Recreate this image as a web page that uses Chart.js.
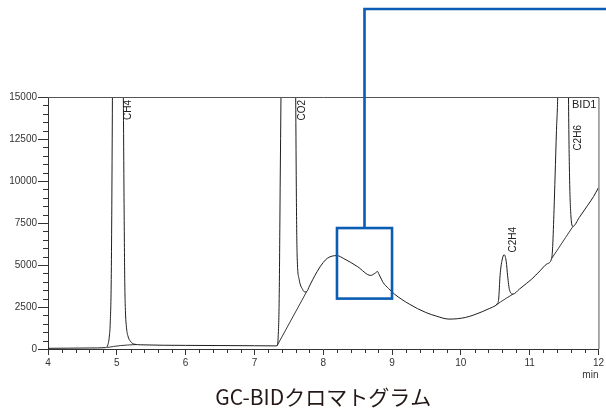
<!DOCTYPE html>
<html>
<head>
<meta charset="utf-8">
<script src="https://cdn.jsdelivr.net/npm/chart.js@4"></script>
<style>
  html, body { margin: 0; padding: 0; background: #fff; }
  canvas { display: block; }
</style>
</head>
<body>
<canvas id="chrom" width="606" height="408"></canvas>
<script>
// retention time (min) and detector response for the BID1 trace
const sigTime = [4.00, 4.30, 4.60, 4.84, 4.87, 4.89, 4.905, 4.92, 4.935, 4.95, 5.00, 5.06, 5.095, 5.105, 5.115, 5.125, 5.14, 5.16, 5.20, 5.25, 5.35, 6.00, 7.00, 7.30,
  7.33, 7.345, 7.36, 7.375, 7.386, 7.42, 7.50, 7.58, 7.60, 7.61, 7.62, 7.65, 7.70, 7.73, 7.76, 7.80, 7.85, 7.91, 8.00, 8.06, 8.13, 8.20, 8.30, 8.50,
  8.69, 8.75, 8.79, 8.81, 8.85, 8.87, 8.95, 9.035, 9.25, 9.49, 9.65, 9.83, 10.07, 10.31, 10.42, 10.50, 10.53,
  10.55, 10.57, 10.60, 10.63, 10.66, 10.68, 10.71, 10.76, 10.85, 10.95, 11.03, 11.15, 11.25, 11.32,
  11.335, 11.355, 11.37, 11.39, 11.41, 11.45, 11.50, 11.545, 11.565, 11.58, 11.60, 11.63, 11.72, 11.845, 11.93, 12.00];
const sigValue = [40, 50, 60, 80, 250, 700, 1600, 4500, 14000, 28000, 40000, 30000, 15000, 9000, 4200, 2300, 1300, 800, 450, 290, 250, 215, 195, 185,
  200, 700, 3000, 10000, 15000, 30000, 40000, 26000, 15000, 9000, 5700, 4150, 3550, 3400, 3420, 3750, 4150, 4600, 5150, 5400, 5530, 5560, 5380, 4900,
  4380, 4500, 4610, 4450, 4120, 3960, 3600, 3270, 2675, 2175, 1950, 1780, 1880, 2220, 2420, 2575, 2700,
  2970, 4360, 5300, 5610, 5200, 4360, 3470, 3270, 3560, 3890, 4160, 4650, 5060, 5390,
  6100, 8320, 10300, 13000, 15500, 30000, 40000, 28000, 15000, 10300, 7920, 7300, 7820, 8560, 9080, 9600];

// integration baselines under the peaks (null = break)
const baseTime = [4.86, 4.95, 5.05, 5.15, 5.28, 5.29, 7.33, 7.76, 7.77, 10.50, 10.58, 10.66, 10.76, 10.77, 11.32, 11.42, 11.52, 11.63];
const baseValue = [90, 150, 200, 235, 265, null, 200, 3420, null, 2575, 2810, 3020, 3270, null, 5390, 6000, 6620, 7300];

// peak labels
const peakNames = ['CH4', 'CO2', 'C2H4', 'C2H6'];
const peakLabelTime = [5.17, 7.695, 10.76, 11.70];
const peakLabelTop = [14820, 14820, 7270, 13330];

const xTicks = [4, 5, 6, 7, 8, 9, 10, 11, 12];
const yTicks = [0, 2500, 5000, 7500, 10000, 12500, 15000];

// zoom box shown by the callout
const boxTime = [8.2, 9.0];
const boxValue = [3000, 7200];

const toPoints = (xs, ys) => xs.map((x, i) => ({ x: x, y: ys[i] }));

const axisColor = '#333';
const textColor = '#333';
const calloutBlue = '#0b5db3';
const sans = '"Liberation Sans", Arial, sans-serif';

const extras = {
  id: 'extras',
  afterDatasetsDraw(chart) {
    const { ctx, chartArea: a, scales: { x, y } } = chart;
    ctx.save();
    // frame top and right
    ctx.strokeStyle = '#555';
    ctx.lineWidth = 1;
    ctx.beginPath();
    ctx.moveTo(a.left, a.top + 0.5);
    ctx.lineTo(a.right + 0.5, a.top + 0.5);
    ctx.lineTo(a.right + 0.5, a.bottom);
    ctx.stroke();

    // minor ticks
    ctx.strokeStyle = axisColor;
    ctx.lineWidth = 1;
    ctx.beginPath();
    for (let v = 500; v < 15000; v += 500) {
      if (v % 2500 === 0) continue;
      const py = Math.round(y.getPixelForValue(v)) + 0.5;
      ctx.moveTo(a.left - 5, py);
      ctx.lineTo(a.left, py);
    }
    for (let i = 1; i < 40; i++) {
      if (i % 5 === 0) continue;
      const px = Math.round(x.getPixelForValue(4 + i * 0.2)) + 0.5;
      ctx.moveTo(px, a.bottom);
      ctx.lineTo(px, a.bottom + 4);
    }
    ctx.stroke();

    // peak names
    ctx.fillStyle = '#222';
    ctx.font = '10px ' + sans;
    ctx.textBaseline = 'middle';
    peakNames.forEach((name, i) => {
      ctx.save();
      ctx.translate(x.getPixelForValue(peakLabelTime[i]), y.getPixelForValue(peakLabelTop[i]));
      ctx.rotate(-Math.PI / 2);
      ctx.textAlign = 'right';
      ctx.fillText(name, 0, 0);
      ctx.restore();
    });
    ctx.font = '11px ' + sans;
    ctx.textAlign = 'right';
    ctx.fillText('BID1', a.right - 2, a.top + 8);

    // unit
    ctx.font = '10px ' + sans;
    ctx.fillStyle = textColor;
    ctx.fillText('min', a.right, a.bottom + 26);

    // callout
    const x0 = x.getPixelForValue(boxTime[0]), x1 = x.getPixelForValue(boxTime[1]);
    const y0 = y.getPixelForValue(boxValue[1]), y1 = y.getPixelForValue(boxValue[0]);
    ctx.strokeStyle = calloutBlue;
    ctx.lineWidth = 2.6;
    ctx.lineJoin = 'miter';
    ctx.strokeRect(x0, y0, x1 - x0, y1 - y0);
    const xm = (x0 + x1) / 2;
    ctx.beginPath();
    ctx.moveTo(xm, y0);
    ctx.lineTo(xm, 9);
    ctx.lineTo(chart.width, 9);
    ctx.stroke();
    ctx.restore();
  }
};

new Chart(document.getElementById('chrom'), {
  type: 'line',
  data: {
    datasets: [
      {
        label: 'BID1',
        data: toPoints(sigTime, sigValue),
        borderColor: '#1e1e1e',
        borderWidth: 1,
        pointRadius: 0,
        cubicInterpolationMode: 'monotone'
      },
      {
        label: 'baseline',
        data: toPoints(baseTime, baseValue),
        borderColor: '#3a3a3a',
        borderWidth: 1,
        pointRadius: 0,
        spanGaps: false,
        cubicInterpolationMode: 'monotone'
      }
    ]
  },
  options: {
    responsive: false,
    animation: false,
    events: [],
    layout: { padding: { top: 97, right: 3, left: 0, bottom: 0 } },
    plugins: {
      legend: { display: false },
      tooltip: { enabled: false },
      title: {
        display: true,
        position: 'bottom',
        fullSize: false,
        text: 'GC-BIDクロマトグラム',
        color: '#231815',
        padding: 0,
        font: { family: '"Noto Sans CJK JP", "Noto Sans", sans-serif', size: 21, weight: 'normal', lineHeight: 1 }
      }
    },
    scales: {
      x: {
        type: 'linear',
        min: xTicks[0],
        max: xTicks[xTicks.length - 1],
        afterFit: (s) => { s.height = 38; },
        afterBuildTicks: (s) => { s.ticks = xTicks.map(v => ({ value: v })); },
        grid: { drawOnChartArea: false, drawTicks: true, tickLength: 6, color: axisColor },
        border: { display: true, color: axisColor, width: 1 },
        ticks: {
          padding: 2,
          maxRotation: 0,
          color: textColor,
          font: { family: sans, size: 10 },
          callback: (v) => String(v)
        }
      },
      y: {
        min: yTicks[0],
        max: yTicks[yTicks.length - 1],
        afterFit: (s) => { s.width = 48; },
        afterBuildTicks: (s) => { s.ticks = yTicks.map(v => ({ value: v })); },
        grid: { drawOnChartArea: false, drawTicks: true, tickLength: 10, color: axisColor },
        border: { display: true, color: axisColor, width: 1 },
        ticks: {
          padding: 1,
          color: textColor,
          font: { family: sans, size: 10 },
          callback: (v) => String(v)
        }
      }
    }
  },
  plugins: [extras]
});
</script>
</body>
</html>
